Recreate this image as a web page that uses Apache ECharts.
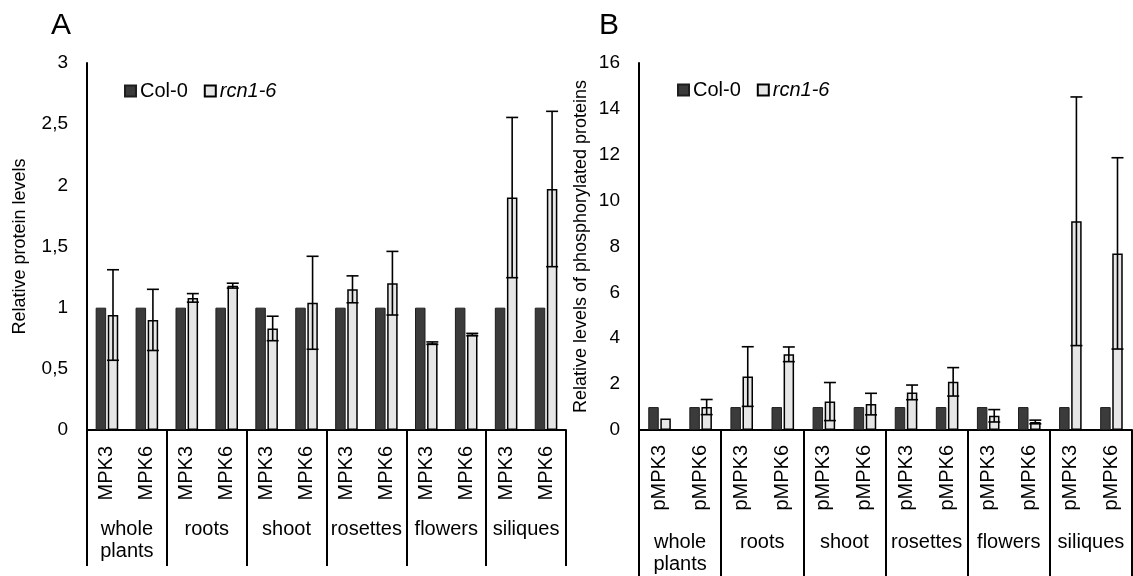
<!DOCTYPE html>
<html>
<head>
<meta charset="utf-8">
<script src="https://cdn.jsdelivr.net/npm/echarts@6/dist/echarts.min.js"></script>
<style>html,body{margin:0;padding:0;background:#fff}#c{width:1133px;height:576px}</style>
</head>
<body>
<div id="c"></div>
<script>
// ---- data ----
var catsA = ['MPK3','MPK6','MPK3','MPK6','MPK3','MPK6','MPK3','MPK6','MPK3','MPK6','MPK3','MPK6'];
var catsB = ['pMPK3','pMPK6','pMPK3','pMPK6','pMPK3','pMPK6','pMPK3','pMPK6','pMPK3','pMPK6','pMPK3','pMPK6'];
var groups = ['whole\nplants','roots','shoot','rosettes','flowers','siliques'];
var col0A = [1,1,1,1,1,1,1,1,1,1,1,1];
var rcnA = [0.94,0.90,1.08,1.18,0.83,1.04,1.15,1.20,0.71,0.78,1.90,1.97];
var rcnAErr = [0.37,0.25,0.035,0.02,0.10,0.38,0.11,0.26,0.01,0.01,0.655,0.635];
var col0B = [1,1,1,1,1,1,1,1,1,1,1,1];
var rcnB = [0.50,1.00,2.33,3.30,1.24,1.13,1.64,2.10,0.62,0.35,9.10,7.70];
var rcnBErr = [0,0.33,1.30,0.32,0.83,0.47,0.32,0.62,0.27,0.08,5.42,4.17];
var ticksA = {min:0, max:3, interval:0.5};
var ticksB = {min:0, max:16, interval:2};

// ---- styles ----
var FONT = 'Liberation Sans, Arial, sans-serif';
var BAR_W = 10.5, GAP = '15%';
var darkStyle = {color:'#3b3b3b', borderColor:'#1e1e1e', borderWidth:1};
var lightStyle = {color:'#e6e6e6', borderColor:'#000', borderWidth:1.5};

function errSeries(vals, errs, xi, yi, offset){
  return {
    type:'custom', xAxisIndex:xi, yAxisIndex:yi, z:10, silent:true,
    data: vals.map(function(v,i){return [i, v, errs[i]];}),
    encode:{x:0,y:1},
    renderItem:function(params, api){
      var i = api.value(0), v = api.value(1), e = api.value(2);
      if(!e) return null;
      var t = api.coord([i, v+e]), b = api.coord([i, v-e]);
      var x = t[0] + offset, hw = 6;
      var st = {stroke:'#000', lineWidth:1.6};
      return {type:'group', children:[
        {type:'line', shape:{x1:x,y1:t[1],x2:x,y2:b[1]}, style:st},
        {type:'line', shape:{x1:x-hw,y1:t[1],x2:x+hw,y2:t[1]}, style:st},
        {type:'line', shape:{x1:x-hw,y1:b[1],x2:x+hw,y2:b[1]}, style:st}
      ]};
    }
  };
}
var OFFSET = (BAR_W + BAR_W*0.15)/2;

function catAxis(data, gi, margin){
  return {type:'category', gridIndex:gi, data:data, position:'bottom',
    axisLine:{show:true, lineStyle:{color:'#000', width:2}},
    axisTick:{show:false},
    axisLabel:{rotate:90, margin:margin, color:'#000', fontFamily:FONT, fontSize:20, interval:0}};
}
function groupAxis(gi, tickLen, margin){
  return {type:'category', gridIndex:gi, data:groups, position:'bottom',
    axisLine:{show:false},
    axisTick:{show:true, length:tickLen, lineStyle:{color:'#000', width:2}},
    axisLabel:{margin:margin, color:'#000', fontFamily:FONT, fontSize:20, lineHeight:22, interval:0}};
}
function valAxis(gi, t, name, gap, fmt){
  return {type:'value', gridIndex:gi, min:t.min, max:t.max, interval:t.interval,
    name:name, nameLocation:'middle', nameGap:gap,
    nameTextStyle:{color:'#000', fontFamily:FONT, fontSize:18},
    splitLine:{show:false},
    axisLine:{show:true, lineStyle:{color:'#000', width:2}},
    axisTick:{show:false},
    axisLabel:{margin:19, color:'#000', fontFamily:FONT, fontSize:19, formatter:fmt}};
}
var legendCommon = {
  orient:'horizontal', icon:'rect', itemWidth:11, itemHeight:11, itemGap:16,
  data:['Col-0','rcn1-6'],
  formatter:function(n){return n==='rcn1-6' ? '{i|rcn1-6}' : n;},
  textStyle:{color:'#000', fontFamily:FONT, fontSize:20, padding:[0,0,0,-1],
    rich:{i:{fontStyle:'italic', fontSize:20, fontFamily:FONT, color:'#000'}}}
};

var option = {
  animation:false,
  title:[
    {text:'A', left:46, top:6, textStyle:{fontFamily:FONT, fontSize:30, fontWeight:'normal', color:'#000'}},
    {text:'B', left:594, top:6, textStyle:{fontFamily:FONT, fontSize:30, fontWeight:'normal', color:'#000'}}
  ],
  legend:[
    Object.assign({left:119, top:76}, legendCommon),
    Object.assign({left:672, top:75}, legendCommon)
  ],
  grid:[
    {left:87, top:63, width:479, height:367},
    {left:639, top:63, width:493, height:367}
  ],
  xAxis:[ catAxis(catsA,0,16), groupAxis(0,136,88), catAxis(catsB,1,15), groupAxis(1,148,101) ],
  yAxis:[
    valAxis(0, ticksA, 'Relative protein levels', 58, function(v){return String(v).replace('.',',');}),
    valAxis(1, ticksB, 'Relative levels of phosphorylated proteins', 49, function(v){return String(v);})
  ],
  series:[
    {name:'Col-0', type:'bar', xAxisIndex:0, yAxisIndex:0, data:col0A, barWidth:BAR_W, barGap:GAP, itemStyle:darkStyle},
    {name:'rcn1-6', type:'bar', xAxisIndex:0, yAxisIndex:0, data:rcnA, barWidth:BAR_W, barGap:GAP, itemStyle:lightStyle},
    errSeries(rcnA, rcnAErr, 0, 0, OFFSET),
    {name:'Col-0', type:'bar', xAxisIndex:2, yAxisIndex:1, data:col0B, barWidth:BAR_W, barGap:GAP, itemStyle:darkStyle},
    {name:'rcn1-6', type:'bar', xAxisIndex:2, yAxisIndex:1, data:rcnB, barWidth:BAR_W, barGap:GAP, itemStyle:lightStyle},
    errSeries(rcnB, rcnBErr, 2, 1, OFFSET)
  ]
};
var chart = echarts.init(document.getElementById('c'), null, {renderer:'canvas'});
chart.setOption(option);
</script>
</body>
</html>
